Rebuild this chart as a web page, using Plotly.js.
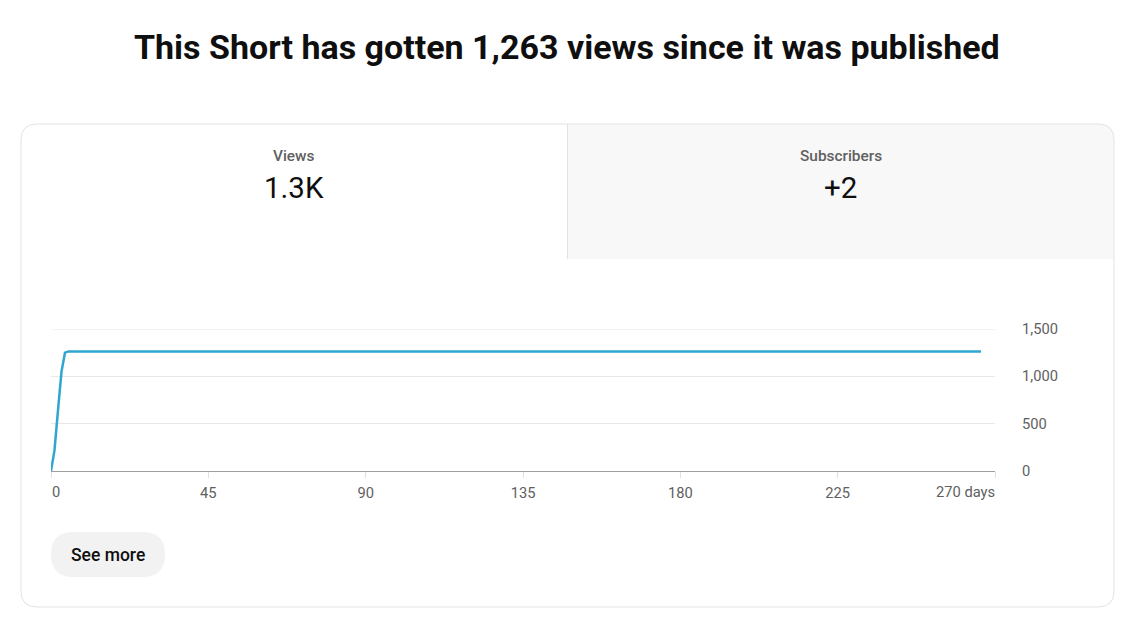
<!DOCTYPE html>
<html>
<head>
<meta charset="utf-8">
<script src="https://cdn.plot.ly/plotly-3.0.1.min.js"></script>
<style>
  html, body { margin: 0; padding: 0; background: #ffffff; }
  #chart { width: 1143px; height: 622px; }
</style>
</head>
<body>
<div id="chart"></div>
<script>
// ---- data ----
const chartTitle = "This Short has gotten 1,263 views since it was published";
const days = [0, 1, 2, 3, 4, 5, 266];
const cumulativeViews = [0, 220, 640, 1050, 1250, 1263, 1263];
const metricLabels = ["Views", "Subscribers"];
const metricValues = ["1.3K", "+2"];
const xTickVals = [0, 45, 90, 135, 180, 225, 270];
const xTickText = ["", "45", "90", "135", "180", "225", ""];
const xEndLabels = ["0", "270 days"];
const yTickVals = [0, 500, 1000, 1500];
const yTickText = ["0", "500", "1,000", "1,500"];
const buttonLabel = "See more";

// ---- geometry (pixel -> paper) ----
const W = 1143, H = 622;
const L = 51, R = 995, T = 329, B = 471;
const px = x => (x - L) / (R - L);
const py = y => (B - y) / (B - T);

function roundRect(x0, y0, x1, y1, rtl, rtr, rbr, rbl) {
  const P = (x, y) => px(x) + ',' + py(y);
  return 'M' + P(x0 + rtl, y0) +
    ' L' + P(x1 - rtr, y0) + ' Q' + P(x1, y0) + ' ' + P(x1, y0 + rtr) +
    ' L' + P(x1, y1 - rbr) + ' Q' + P(x1, y1) + ' ' + P(x1 - rbr, y1) +
    ' L' + P(x0 + rbl, y1) + ' Q' + P(x0, y1) + ' ' + P(x0, y1 - rbl) +
    ' L' + P(x0, y0 + rtl) + ' Q' + P(x0, y0) + ' ' + P(x0 + rtl, y0) + ' Z';
}

const FONT = "Roboto, 'Noto Sans', sans-serif";
const TICKSIZE = 14.7;

const shapes = [
  // card background
  { type: 'path', xref: 'paper', yref: 'paper', layer: 'below',
    path: roundRect(21, 124, 1114, 607, 16, 16, 16, 16),
    fillcolor: '#ffffff', line: { width: 0 } },
  // right tab (inactive) background
  { type: 'path', xref: 'paper', yref: 'paper', layer: 'below',
    path: roundRect(567, 124, 1114, 259, 0, 16, 0, 0),
    fillcolor: '#f8f8f8', line: { width: 0 } },
  // tab divider
  { type: 'line', xref: 'paper', yref: 'paper', layer: 'below',
    x0: px(567.5), x1: px(567.5), y0: py(124), y1: py(259),
    line: { color: '#e3e3e3', width: 1 } },
  // card border
  { type: 'path', xref: 'paper', yref: 'paper', layer: 'below',
    path: roundRect(21, 124, 1114, 607, 16, 16, 16, 16),
    fillcolor: 'rgba(0,0,0,0)', line: { color: '#e3e3e3', width: 1 } },
  // see more button
  { type: 'path', xref: 'paper', yref: 'paper', layer: 'below',
    path: roundRect(51, 532, 165, 577, 22.5, 22.5, 22.5, 22.5),
    fillcolor: '#f2f2f2', line: { width: 0 } },
  // top gridline (at range edge)
  { type: 'line', xref: 'paper', yref: 'y', layer: 'below',
    x0: 0, x1: 1, y0: yTickVals[yTickVals.length - 1], y1: yTickVals[yTickVals.length - 1],
    line: { color: '#e8e8e8', width: 1 } }
];

const annotations = [
  { text: '<b>' + chartTitle + '</b>', xref: 'paper', yref: 'paper',
    x: px(567), y: py(47), xanchor: 'center', yanchor: 'middle', showarrow: false,
    font: { family: FONT, size: 34, color: '#0f0f0f' } },
  { text: metricLabels[0], xref: 'paper', yref: 'paper',
    x: px(294), y: py(156), xanchor: 'center', yanchor: 'middle', showarrow: false,
    font: { family: FONT, size: 15.4, color: '#606060', weight: 500 } },
  { text: metricValues[0], xref: 'paper', yref: 'paper',
    x: px(294), y: py(188), xanchor: 'center', yanchor: 'middle', showarrow: false,
    font: { family: FONT, size: 29.5, color: '#0f0f0f' } },
  { text: metricLabels[1], xref: 'paper', yref: 'paper',
    x: px(840.5), y: py(156), xanchor: 'center', yanchor: 'middle', showarrow: false,
    font: { family: FONT, size: 15.4, color: '#606060', weight: 500 } },
  { text: metricValues[1], xref: 'paper', yref: 'paper',
    x: px(840.5), y: py(188), xanchor: 'center', yanchor: 'middle', showarrow: false,
    font: { family: FONT, size: 29.5, color: '#0f0f0f' } },
  { text: xEndLabels[0], xref: 'x', yref: 'paper',
    x: 0, y: py(492), xanchor: 'left', yanchor: 'middle', showarrow: false, xshift: -1.5,
    font: { family: FONT, size: TICKSIZE, color: '#606060' } },
  { text: xEndLabels[1], xref: 'x', yref: 'paper',
    x: 270, y: py(492), xanchor: 'right', yanchor: 'middle', showarrow: false, xshift: 2,
    font: { family: FONT, size: TICKSIZE, color: '#606060' } },
  { text: buttonLabel, xref: 'paper', yref: 'paper',
    x: px(108), y: py(554.5), xanchor: 'center', yanchor: 'middle', showarrow: false,
    font: { family: FONT, size: 17.5, color: '#0f0f0f', weight: 500 } }
];

const trace = {
  type: 'scatter', mode: 'lines', x: days, y: cumulativeViews,
  line: { color: '#2fa6cf', width: 2.5 }, hoverinfo: 'skip', cliponaxis: false
};

const layout = {
  width: W, height: H,
  margin: { l: L, r: W - R, t: T, b: H - B, pad: 0 },
  paper_bgcolor: '#ffffff', plot_bgcolor: 'rgba(0,0,0,0)',
  showlegend: false,
  font: { family: FONT, color: '#606060', size: TICKSIZE },
  xaxis: {
    range: [0, 270], fixedrange: true,
    tickvals: xTickVals, ticktext: xTickText,
    ticks: 'outside', ticklen: 6, tickwidth: 1, tickcolor: '#e0e0e0',
    ticklabelstandoff: 2,
    showgrid: false, zeroline: false,
    showline: true, linecolor: '#9e9e9e', linewidth: 1,
    tickfont: { family: FONT, size: TICKSIZE, color: '#606060' }
  },
  yaxis: {
    range: [0, 1500], fixedrange: true, side: 'right',
    tickvals: yTickVals, ticktext: yTickText, ticks: '',
    ticklabelstandoff: 26,
    showgrid: true, gridcolor: '#e8e8e8', gridwidth: 1,
    zeroline: false, showline: false,
    tickfont: { family: FONT, size: TICKSIZE, color: '#606060' }
  },
  shapes: shapes,
  annotations: annotations
};

Plotly.newPlot('chart', [trace], layout, { displayModeBar: false, staticPlot: true });
</script>
</body>
</html>
